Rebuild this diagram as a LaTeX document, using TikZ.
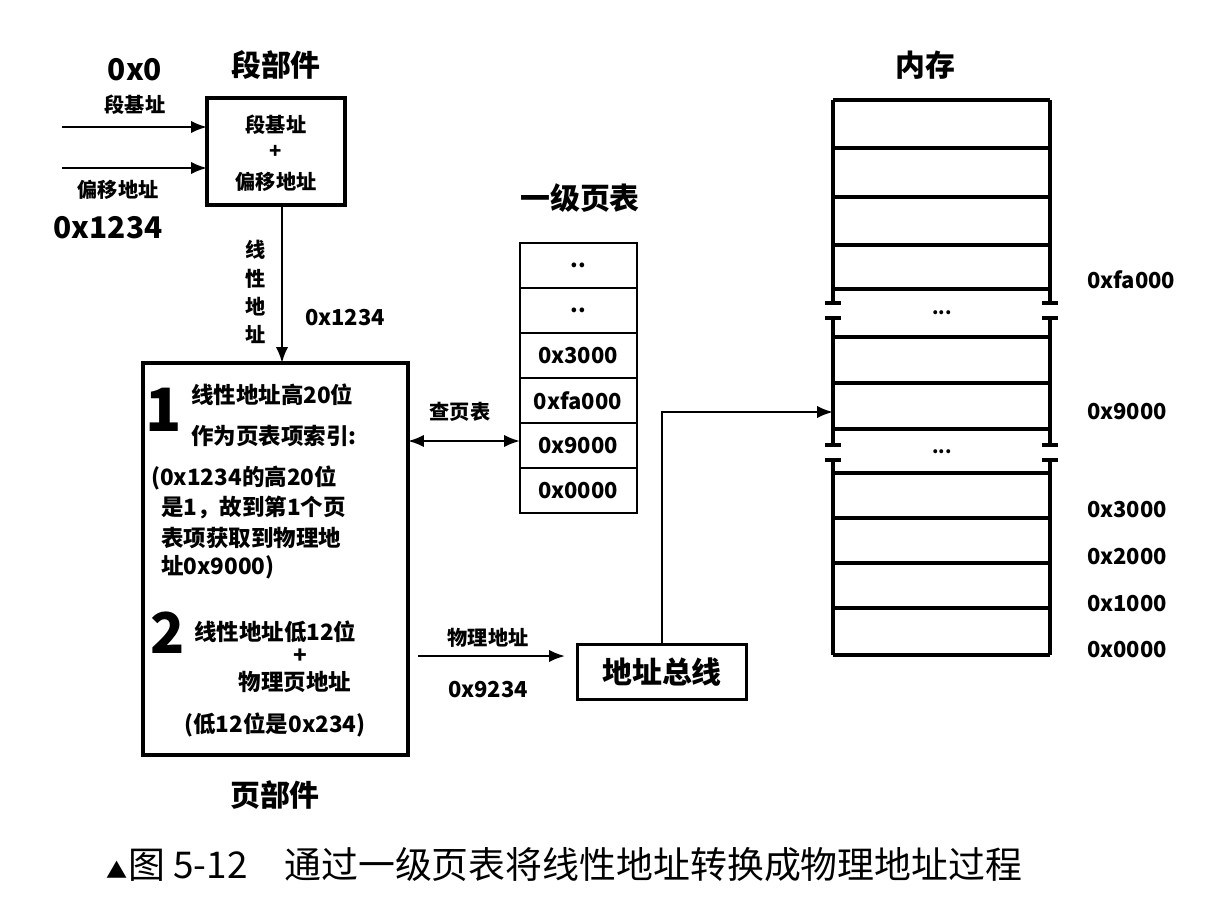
\documentclass[tikz,border=0pt]{standalone}
\usepackage{fontspec}
\setmainfont{Noto Sans CJK SC}
\usetikzlibrary{arrows.meta}
\begin{document}
\begin{tikzpicture}[x=0.02cm,y=-0.02cm,
  line width=1.3pt,
  box/.style={draw,line width=2.2pt},
  cell/.style={draw,line width=1.3pt},
  arr/.style={-{Latex[length=9pt,width=7pt]},line width=1.3pt},
  big/.style={font=\bfseries\fontsize{17}{19}\selectfont},
  mid/.style={font=\bfseries\fontsize{12.5}{14}\selectfont},
  sm/.style={font=\bfseries\fontsize{10.5}{12}\selectfont},
  tx/.style={font=\bfseries\fontsize{11.5}{13}\selectfont,inner sep=0pt},
  tb/.style={font=\bfseries\fontsize{12.8}{14}\selectfont,inner sep=0pt}]
\useasboundingbox (0,0) rectangle (1222,906);
% segment unit
\draw[box] (207,98) rectangle (345,205);
\node[tx] at (276,125) {段基址};
\node[tx] at (276,152) {+};
\node[tx] at (276,182) {偏移地址};
\node[big] at (276,65) {段部件};
\coordinate (i1) at (62,127); \coordinate (i1e) at (207,127);
\coordinate (i2) at (62,168); \coordinate (i2e) at (207,168);
\draw[arr] (i1) -- (i1e);
\draw[arr] (i2) -- (i2e);
\node[big] at (135,70) {0x0};
\node[tx] at (135,105) {段基址};
\node[tx] at (118,190) {偏移地址};
\node[big] at (108,228) {0x1234};
% linear addr arrow
\coordinate (d1) at (282,205); \coordinate (d2) at (282,363);
\draw[arr] (d1) -- (d2);
\node[tx,align=center,font=\bfseries\fontsize{11.5}{16}\selectfont] at (256,292) {线\\性\\地\\址};
\node[mid] at (345,318) {0x1234};
% page unit
\draw[box] (143,363) rectangle (408,755);
\node[font=\bfseries\fontsize{34}{34}\selectfont,inner sep=0pt] at (164,410) {1};
\node[tb,anchor=west] at (190,395) {线性地址高20位};
\node[tb,anchor=west] at (190,436) {作为页表项索引:};
\node[tb,anchor=west] at (150,478) {(0x1234的高20位};
\node[tb,anchor=west] at (160,508) {是1，故到第1个页};
\node[tb,anchor=west] at (160,538) {表项获取到物理地};
\node[tb,anchor=west] at (160,567) {址0x9000)};
\node[font=\bfseries\fontsize{32}{32}\selectfont,inner sep=0pt] at (168,633) {2};
\node[tb,anchor=west] at (193,632) {线性地址低12位};
\node[tb] at (300,656) {+};
\node[tb] at (295,682) {物理页地址};
\node[tb] at (275,725) {(低12位是0x234)};
\node[big] at (275,795) {页部件};
% page table
\node[big] at (580,198) {一级页表};
\foreach \t [count=\i] in {..,..,0x3000,0xfa000,0x9000,0x0000}{
  \draw[cell] (520,{243+45*(\i-1)}) rectangle (637,{243+45*\i});
  \node[mid] at (578,{265.5+45*(\i-1)}) {\t};
}
\coordinate (pl) at (408,441); \coordinate (pr) at (520,441);
\draw[{Latex[length=9pt,width=7pt]}-{Latex[length=9pt,width=7pt]}] (pl) -- (pr);
\node[tx] at (460,412) {查页表};
% address bus
\node[box,minimum width=169*0.02cm,minimum height=55*0.02cm,inner sep=0pt,
  font=\bfseries\fontsize{17}{19}\selectfont] (bus) at (662,672) {地址总线};
\coordinate (pa) at (418,656); \coordinate (pb) at (565,656);
\draw[arr] (pa) -- (pb);
\node[tx] at (488,638) {物理地址};
\node[mid] at (488,690) {0x9234};
\coordinate (m9) at (833,412); \coordinate (bt) at (662,412);
\draw[arr] (bus.north) -- (bt) -- (m9);
% memory
\node[big] at (925,65) {内存};
\foreach \y in {100,148,197,245,289,337,383,429,473,518,563,608,655}
  \draw[line width=1.8pt] (833,\y) -- (1050,\y);
\foreach \x in {833,1050}{
  \draw[line width=1.8pt] (\x,100) -- (\x,303) (\x,318) -- (\x,445) (\x,460) -- (\x,655);
  \foreach \a in {303,318,445,460}
    \draw[line width=1.8pt] (\x-8,\a) -- (\x+8,\a);
}
\node[sm] at (942,313) {...};
\node[sm] at (942,452) {...};
\foreach \t/\y in {0xfa000/280,0x9000/412,0x3000/510,0x2000/557,0x1000/604,0x0000/650}
  \node[mid,anchor=west] at (1080,\y) {\t};
% caption
\node[font=\fontsize{21}{23}\selectfont,anchor=west] at (100,865) {{\fontsize{12}{12}\selectfont ▲}图 5-12\quad 通过一级页表将线性地址转换成物理地址过程};
\end{tikzpicture}
\end{document}
